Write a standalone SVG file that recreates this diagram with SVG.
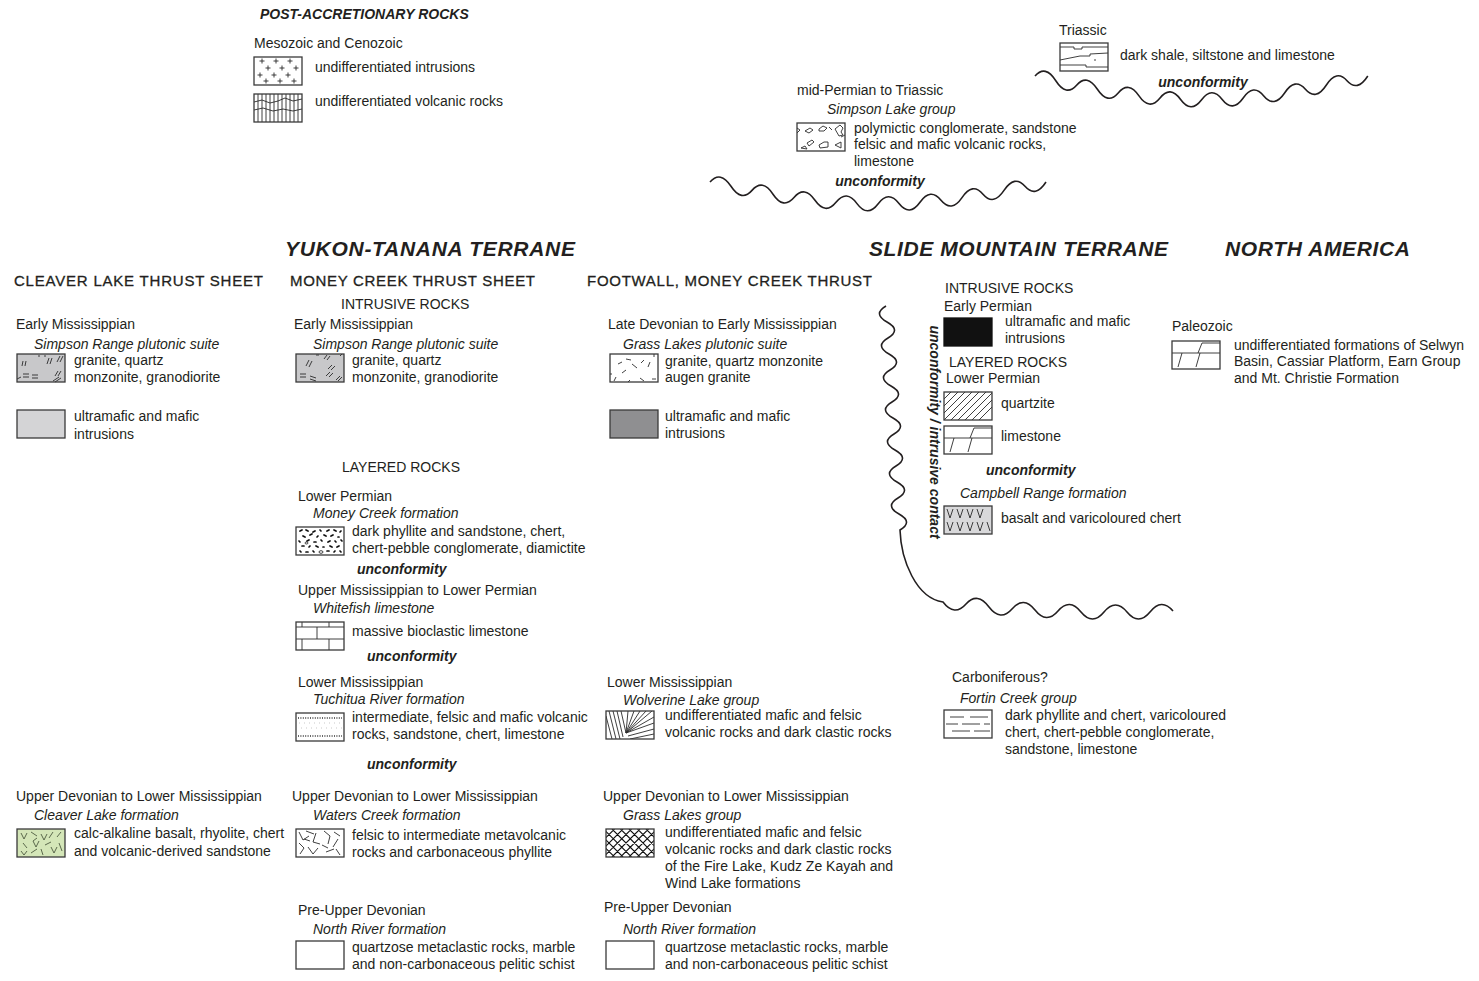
<svg xmlns="http://www.w3.org/2000/svg" xmlns:xlink="http://www.w3.org/1999/xlink" width="1479" height="981" viewBox="0 0 1479 981">
<style>
text{font-family:"Liberation Sans",Arial,sans-serif;font-size:14px;fill:#231f20}
.it{font-style:italic}
.un{font-style:italic;font-weight:bold}
.hd{font-size:15px;stroke:#231f20;stroke-width:0.3}
.tr{font-size:21px;font-style:italic;font-weight:bold}
.fr{fill:none;stroke:#3a3a3a;stroke-width:1.3}
.ln{fill:none;stroke:#2a2a2a;stroke-width:0.9}
.wave{fill:none;stroke:#231f20;stroke-width:1.6}
</style>
<defs>
<clipPath id="cb"><rect width="48" height="28"/></clipPath>
<g id="p-intr"><rect width="48" height="28" fill="#fff"/><path class="ln" d="M5.5 4h5M8 1.5v5M19.5 4h5M22 1.5v5M33.5 4h5M36 1.5v5M11.5 11h5M14 8.5v5M25.5 11h5M28 8.5v5M39.5 11h5M42 8.5v5M3.5 18h5M6 15.5v5M17.5 18h5M20 15.5v5M31.5 18h5M34 15.5v5M9.5 24h5M12 21.5v5M23.5 24h5M26 21.5v5M37.5 24h5M40 21.5v5"/><rect class="fr" width="48" height="28"/></g>
<g id="p-volc"><rect width="48" height="28" fill="#fff"/><path class="ln" d="M4 0v28M8 0v28M12 0v28M16 0v28M20 0v28M24 0v28M28 0v28M32 0v28M36 0v28M40 0v28M44 0v28M0 8l8-2 8 3 8-2 7-3 8 3 9-2M0 16l9-2 10 3 10-2 10 2 9-2"/><rect class="fr" width="48" height="28"/></g>
<g id="p-shale"><rect width="48" height="28" fill="#fff"/><path class="ln" d="M0 4H14V6H22V4H48M0 17L20 13H30V11L48 10M0 22H26V24H48M35 16v2"/><rect class="fr" width="48" height="28"/></g>
<g id="p-cong"><rect width="48" height="28" fill="#fff"/><path class="ln" d="M0 5l3 2-3 3M8 8l5-3 3 2-4 3zM22 6l4-3 4 2-3 3-5 0zM32 4l3 3M38 6l5-4 3 3-2 4 2 3-4 1zM10 20l5-3 2 2-5 4zM22 22l5-3 4 0 0 5-8 1zM4 25l4-2 2 3zM38 22l6-3v6zM44 14l4-2"/><rect class="fr" width="48" height="28"/></g>
<g id="p-simr"><rect width="48" height="28" fill="#c8c8ca"/><path class="ln" stroke-width="1.1" d="M5 12l1-5M8 12l1-5M30 10l2-6M33 10l2-6M40 8l3-6M43 8l3-6M38 22l3-5M41 22l3-5M6 20h6M6 23h6M15 21h6M15 24h6M36 27l6-4M38 28l6-4M22 1v2M28 1v2M0 25l4-2"/><rect class="fr" width="48" height="28"/></g>
<g id="p-simr2"><rect width="48" height="28" fill="#c8c8ca"/><path class="ln" stroke-width="1.1" d="M10 12l3-6M13 13l3-6M28 5l3-4M31 6l3-4M32 15l4-4M35 16l4-4M30 22l4-4M33 23l4-4M4 20h6M4 23h6M14 22l6 2M14 25l6 2M40 26l4-4M42 27l4-4M20 1h3M44 2l2-2"/><rect class="fr" width="48" height="28"/></g>
<g id="p-grpl"><rect width="48" height="28" fill="#fff"/><path class="ln" d="M8 10l4-2M16 5l5 1M22 10l5 4M31 9l3-3M38 13l2-5M12 19l4-3M4 27l2-4M30 24l4 3M42 25h4M20 26l-2 2M0 20h2M44 0v3"/><rect class="fr" width="48" height="28"/></g>
<g id="p-mc"><rect width="48" height="28" fill="#fff"/><path fill="none" stroke="#111" stroke-width="1.7" stroke-linecap="round" d="M4 4l2-1M10 3l2 1M17 5l2-1M24 3l1 1M31 4l2-1M38 3l2 1M44 5l1-1M7 9l2 1M14 8l2-1M21 10l1-1M28 8l2 1M35 9l2-1M42 10l1 0M3 14l1 1M11 14l2-1M18 15l2 0M25 13l1 1M32 15l2-1M39 14l1 1M45 13l1 1M6 19l2 0M13 20l1-1M20 19l2 1M27 20l1 0M34 19l2 1M41 20l2-1M4 24l1 1M10 25l2 0M17 24l1 1M31 24l2 0M38 25l1-1M44 24l1 1"/><path class="ln" d="M23 25a2 1.3 0 1 0 4 0a2 1.3 0 1 0-4 0M9 16a1.5 1 0 1 0 3 0a1.5 1 0 1 0-3 0"/><rect class="fr" width="48" height="28"/></g>
<g id="p-brick"><rect width="48" height="28" fill="#fff"/><path class="ln" d="M0 5H48M0 17H48M6 0V5M33 0V5M21 5V17M6 17V28M33 17V28"/><rect class="fr" width="48" height="28"/></g>
<g id="p-tuch"><rect width="48" height="28" fill="#fff"/><path fill="none" stroke="#666" stroke-width="1.2" stroke-dasharray="1 1.4" d="M2 4.5H46M2 5.5H46M2 22.5H46M2 23.5H46"/><path fill="none" stroke="#bbb" stroke-width="0.8" stroke-dasharray="1 4" d="M3 10H46M5 15H46"/><rect class="fr" width="48" height="28"/></g>
<g id="p-wolv"><rect width="48" height="28" fill="#fff"/><g clip-path="url(#cb)"><path class="ln" stroke="#555" d="M0 5L6 28M3 0L10 28M7 0L14 28M11 0L17 26M15 0L20 22M20 22L22 0M20 22L28 0M20 22L34 0M20 22L40 0M20 22L46 0M20 22L48 6M20 22L48 12M22 25L48 18M24 28L48 23"/></g><rect class="fr" width="48" height="28"/></g>
<g id="p-clv"><rect width="48" height="28" fill="#d4e6b8"/><path fill="none" stroke="#4d5a40" stroke-width="0.9" d="M4 4l3 6 3-6M14 3l6 4M24 5l3 6 3-6M36 3l-4 6M40 8l4-5M6 14l4 5M16 12l3 6 3-6M28 16l6-3M34 18l3 6 3-6M4 22l3 4 3-4M14 24l6-4M24 20l2 6M42 14l3 8M20 9l-4 3"/><rect class="fr" width="48" height="28"/></g>
<g id="p-wat"><rect width="48" height="28" fill="#fff"/><path class="ln" stroke-width="1.1" d="M3 3l4 8 6-4M10 2l8 3M20 4l-3 9 7 2M28 2l6 5-2 8M38 3l6 4M42 10l-5 8M3 14l5 5-4 6M12 18l5 7 5-6M26 16l6 3M30 23l8-3M40 20l4 6M8 10l6 2"/><rect class="fr" width="48" height="28"/></g>
<g id="p-xh"><rect width="48" height="28" fill="#fff"/><g clip-path="url(#cb)"><path fill="none" stroke="#111" stroke-width="1.1" d="M-28 0l28 28M-19.5 0l28 28M-11 0l28 28M-2.5 0l28 28M6 0l28 28M14.5 0l28 28M23 0l28 28M31.5 0l28 28M40 0l28 28M0 0l-28 28M8.5 0l-28 28M17 0l-28 28M25.5 0l-28 28M34 0l-28 28M42.5 0l-28 28M51 0l-28 28M59.5 0l-28 28M68 0l-28 28"/></g><rect class="fr" width="48" height="28"/></g>
<g id="p-qtz"><rect width="48" height="28" fill="#fff"/><g clip-path="url(#cb)"><path class="ln" d="M-21 28l28-28M-14 28l28-28M-7 28l28-28M0 28l28-28M7 28l28-28M14 28l28-28M21 28l28-28M28 28l28-28M35 28l28-28"/></g><rect class="fr" width="48" height="28"/></g>
<g id="p-lms"><rect width="48" height="28" fill="#fff"/><path class="ln" d="M0 12H48M26 12L30 2M30 2H48M6 26L10 12M24 26L28 12"/><rect class="fr" width="48" height="28"/></g>
<g id="p-camp"><rect width="48" height="28" fill="#d8d8da"/><path class="ln" d="M3 3l3 9 3-9M13 3l3 9 3-9M23 3l3 9 3-9M33 3l3 9 3-9M3 16l3 9 3-9M13 16l3 9 3-9M23 16l3 9 3-9M33 16l3 9 3-9M43 16l3 9"/><rect class="fr" width="48" height="28"/></g>
<g id="p-fort"><rect width="48" height="28" fill="#fff"/><path class="ln" stroke="#555" d="M6 7H20M26 7H44M2 14H14M18 14H36M40 14H46M8 21H26M30 21H46"/><rect class="fr" width="48" height="28"/></g>
<g id="p-white"><rect width="48" height="28" fill="#fff"/><rect class="fr" width="48" height="28"/></g>
</defs>
<rect width="1479" height="981" fill="#fff"/>

<g id="post-accretionary">
<text x="260" y="19" class="un" font-size="13.5">POST-ACCRETIONARY ROCKS</text>
<text x="254" y="48">Mesozoic and Cenozoic</text>
</g>
<g id="n-intrusions"><use href="#p-intr" x="254" y="57"/><text x="315" y="72">undifferentiated intrusions</text></g>
<g id="n-volcanic"><use href="#p-volc" x="254" y="94"/><text x="315" y="106">undifferentiated volcanic rocks</text></g>

<g id="n-triassic">
<text x="1059" y="35">Triassic</text>
<use href="#p-shale" x="1060" y="43"/>
<text x="1120" y="60">dark shale, siltstone and limestone</text>
<text x="1203" y="87" class="un" text-anchor="middle">unconformity</text>
</g>
<g id="n-simpsonlake">
<text x="797" y="95">mid-Permian to Triassic</text>
<text x="827" y="114" class="it">Simpson Lake group</text>
<use href="#p-cong" x="797" y="123"/>
<text x="854" y="133">polymictic conglomerate, sandstone</text>
<text x="854" y="149">felsic and mafic volcanic rocks,</text>
<text x="854" y="166">limestone</text>
<text x="880" y="186" class="un" text-anchor="middle">unconformity</text>
</g>

<g id="headers">
<text x="285" y="256" class="tr" textLength="290">YUKON-TANANA TERRANE</text>
<text x="869" y="256" class="tr" textLength="299">SLIDE MOUNTAIN TERRANE</text>
<text x="1225" y="256" class="tr" textLength="185">NORTH AMERICA</text>
<text x="14" y="286" class="hd" textLength="249">CLEAVER LAKE THRUST SHEET</text>
<text x="290" y="286" class="hd" textLength="245">MONEY CREEK THRUST SHEET</text>
<text x="587" y="286" class="hd" textLength="285">FOOTWALL, MONEY CREEK THRUST</text>
</g>

<!-- Cleaver Lake thrust sheet -->
<g id="n-cl-simpson">
<text x="16" y="329">Early Mississippian</text>
<text x="34" y="349" class="it">Simpson Range plutonic suite</text>
<use href="#p-simr" x="17" y="354"/>
<text x="74" y="365">granite, quartz</text>
<text x="74" y="382">monzonite, granodiorite</text>
</g>
<g id="n-cl-ultramafic">
<rect x="17" y="410" width="48" height="28" fill="#d4d4d6" stroke="#3a3a3a" stroke-width="1.3"/>
<text x="74" y="421">ultramafic and mafic</text>
<text x="74" y="439">intrusions</text>
</g>
<g id="n-cl-cleaver">
<text x="16" y="801">Upper Devonian to Lower Mississippian</text>
<text x="34" y="820" class="it">Cleaver Lake formation</text>
<use href="#p-clv" x="17" y="829"/>
<text x="74" y="838">calc-alkaline basalt, rhyolite, chert</text>
<text x="74" y="856">and volcanic-derived sandstone</text>
</g>

<!-- Money Creek thrust sheet -->
<g id="n-mc-simpson">
<text x="341" y="309">INTRUSIVE ROCKS</text>
<text x="294" y="329">Early Mississippian</text>
<text x="313" y="349" class="it">Simpson Range plutonic suite</text>
<use href="#p-simr2" x="296" y="354"/>
<text x="352" y="365">granite, quartz</text>
<text x="352" y="382">monzonite, granodiorite</text>
</g>
<g id="n-mc-moneycreek">
<text x="342" y="472">LAYERED ROCKS</text>
<text x="298" y="501">Lower Permian</text>
<text x="313" y="518" class="it">Money Creek formation</text>
<use href="#p-mc" x="296" y="527"/>
<text x="352" y="536">dark phyllite and sandstone, chert,</text>
<text x="352" y="553">chert-pebble conglomerate, diamictite</text>
<text x="357" y="574" class="un">unconformity</text>
</g>
<g id="n-mc-whitefish">
<text x="298" y="595">Upper Mississippian to Lower Permian</text>
<text x="313" y="613" class="it">Whitefish limestone</text>
<use href="#p-brick" x="296" y="622"/>
<text x="352" y="636">massive bioclastic limestone</text>
<text x="367" y="661" class="un">unconformity</text>
</g>
<g id="n-mc-tuchitua">
<text x="298" y="687">Lower Mississippian</text>
<text x="313" y="704" class="it">Tuchitua River formation</text>
<use href="#p-tuch" x="296" y="713"/>
<text x="352" y="722">intermediate, felsic and mafic volcanic</text>
<text x="352" y="739">rocks, sandstone, chert, limestone</text>
<text x="367" y="769" class="un">unconformity</text>
</g>
<g id="n-mc-waters">
<text x="292" y="801">Upper Devonian to Lower Mississippian</text>
<text x="313" y="820" class="it">Waters Creek formation</text>
<use href="#p-wat" x="296" y="829"/>
<text x="352" y="840">felsic to intermediate metavolcanic</text>
<text x="352" y="857">rocks and carbonaceous phyllite</text>
</g>
<g id="n-mc-north">
<text x="298" y="915">Pre-Upper Devonian</text>
<text x="313" y="934" class="it">North River formation</text>
<use href="#p-white" x="296" y="941"/>
<text x="352" y="952">quartzose metaclastic rocks, marble</text>
<text x="352" y="969">and non-carbonaceous pelitic schist</text>
</g>

<!-- Footwall -->
<g id="n-fw-grassplut">
<text x="608" y="329">Late Devonian to Early Mississippian</text>
<text x="623" y="349" class="it">Grass Lakes plutonic suite</text>
<use href="#p-grpl" x="610" y="354"/>
<text x="665" y="366">granite, quartz monzonite</text>
<text x="665" y="382">augen granite</text>
</g>
<g id="n-fw-ultramafic">
<rect x="610" y="410" width="48" height="28" fill="#8f8f91" stroke="#3a3a3a" stroke-width="1.3"/>
<text x="665" y="421">ultramafic and mafic</text>
<text x="665" y="438">intrusions</text>
</g>
<g id="n-fw-wolverine">
<text x="607" y="687">Lower Mississippian</text>
<text x="623" y="705" class="it">Wolverine Lake group</text>
<use href="#p-wolv" x="606" y="711"/>
<text x="665" y="720">undifferentiated mafic and felsic</text>
<text x="665" y="737">volcanic rocks and dark clastic rocks</text>
</g>
<g id="n-fw-grassgrp">
<text x="603" y="801">Upper Devonian to Lower Mississippian</text>
<text x="623" y="820" class="it">Grass Lakes group</text>
<use href="#p-xh" x="606" y="829"/>
<text x="665" y="837">undifferentiated mafic and felsic</text>
<text x="665" y="854">volcanic rocks and dark clastic rocks</text>
<text x="665" y="871">of the Fire Lake, Kudz Ze Kayah and</text>
<text x="665" y="888">Wind Lake formations</text>
</g>
<g id="n-fw-north">
<text x="604" y="912">Pre-Upper Devonian</text>
<text x="623" y="934" class="it">North River formation</text>
<use href="#p-white" x="606" y="941"/>
<text x="665" y="952">quartzose metaclastic rocks, marble</text>
<text x="665" y="969">and non-carbonaceous pelitic schist</text>
</g>

<!-- Slide Mountain -->
<g id="n-sm-ultramafic">
<text x="945" y="293">INTRUSIVE ROCKS</text>
<text x="944" y="311">Early Permian</text>
<rect x="944" y="318" width="48" height="28" fill="#111" stroke="#111" stroke-width="1.3"/>
<text x="1005" y="326">ultramafic and mafic</text>
<text x="1005" y="343">intrusions</text>
</g>
<g id="n-sm-quartzite">
<text x="949" y="367">LAYERED ROCKS</text>
<text x="946" y="383">Lower Permian</text>
<use href="#p-qtz" x="944" y="392"/>
<text x="1001" y="408">quartzite</text>
</g>
<g id="n-sm-limestone">
<use href="#p-lms" x="944" y="426"/>
<text x="1001" y="441">limestone</text>
<text x="986" y="475" class="un">unconformity</text>
</g>
<g id="n-sm-campbell">
<text x="960" y="498" class="it">Campbell Range formation</text>
<use href="#p-camp" x="944" y="506"/>
<text x="1001" y="523">basalt and varicoloured chert</text>
</g>
<g id="n-sm-fortin">
<text x="952" y="682">Carboniferous?</text>
<text x="960" y="703" class="it">Fortin Creek group</text>
<use href="#p-fort" x="944" y="710"/>
<text x="1005" y="720">dark phyllite and chert, varicoloured</text>
<text x="1005" y="737">chert, chert-pebble conglomerate,</text>
<text x="1005" y="754">sandstone, limestone</text>
</g>
<g id="contact-label">
<text transform="translate(930,432) rotate(90)" class="un" font-size="13.5" text-anchor="middle">unconformity / intrusive contact</text>
</g>

<!-- North America -->
<g id="n-na-paleozoic">
<text x="1172" y="331">Paleozoic</text>
<use href="#p-lms" x="1172" y="341"/>
<text x="1234" y="350">undifferentiated formations of Selwyn</text>
<text x="1234" y="366">Basin, Cassiar Platform, Earn Group</text>
<text x="1234" y="383">and Mt. Christie Formation</text>
</g>

<g id="connectors">
<path class="wave" d="M1035 76 Q1045.4 64.35 1055.8 80.7 Q1066.2 96.95 1076.6 85.2 Q1087 73.25 1097.4 89.3 Q1107.8 105.15 1118.2 93 Q1128.6 80.45 1139 95.9 Q1149.4 111.05 1159.8 98.2 Q1170.2 84.85 1180.6 99.5 Q1191 113.75 1201.4 100 Q1211.8 85.75 1222.2 99.5 Q1232.6 112.85 1243 98.2 Q1253.4 83.05 1263.8 95.9 Q1274.2 108.45 1284.6 93 Q1295 77.15 1305.4 89.3 Q1315.8 101.25 1326.2 85.2 Q1336.6 68.95 1347 80.7 Q1357.4 92.35 1367.8 76"/>
<path class="wave" d="M710 182 Q720.5 170.2 731 186.3 Q741.5 202.4 752 190.4 Q762.5 178.3 773 194.2 Q783.5 209.9 794 197.6 Q804.5 185 815 200.3 Q825.5 215.3 836 202.3 Q846.5 189 857 203.6 Q867.5 217.8 878 204 Q888.5 189.8 899 203.6 Q909.5 217 920 202.3 Q930.5 187.3 941 200.3 Q951.5 213 962 197.6 Q972.5 181.9 983 194.2 Q993.5 206.3 1004 190.4 Q1014.5 174.4 1025 186.3 Q1035.5 198.2 1046 182"/>
<path class="wave" d="M886 306 Q872.5 314 887 322 Q901.5 330 888 338 Q874.5 346 889 354 Q903.5 362 890 370 Q876.5 378 891 386 Q905.5 394 892 402 Q878.5 410 893 418 Q907.5 426 894 434 Q880.5 442 895 450 Q909.5 458 896 466 Q882.5 474 897 482 Q911.5 490 898 498 Q884.5 506 899 514 Q913.5 522 900 530 C901 560 916 598 943 602 Q954.5 617 966 604 Q977.5 591.5 989 607 Q1000.5 622 1012 609 Q1023.5 595.5 1035 610 Q1046.5 624.5 1058 611 Q1069.5 597.5 1081 612 Q1092.5 626 1104 612 Q1115.5 598 1127 612 Q1138.5 626 1150 612 Q1161.5 597.5 1173 611"/>
</g>
</svg>
